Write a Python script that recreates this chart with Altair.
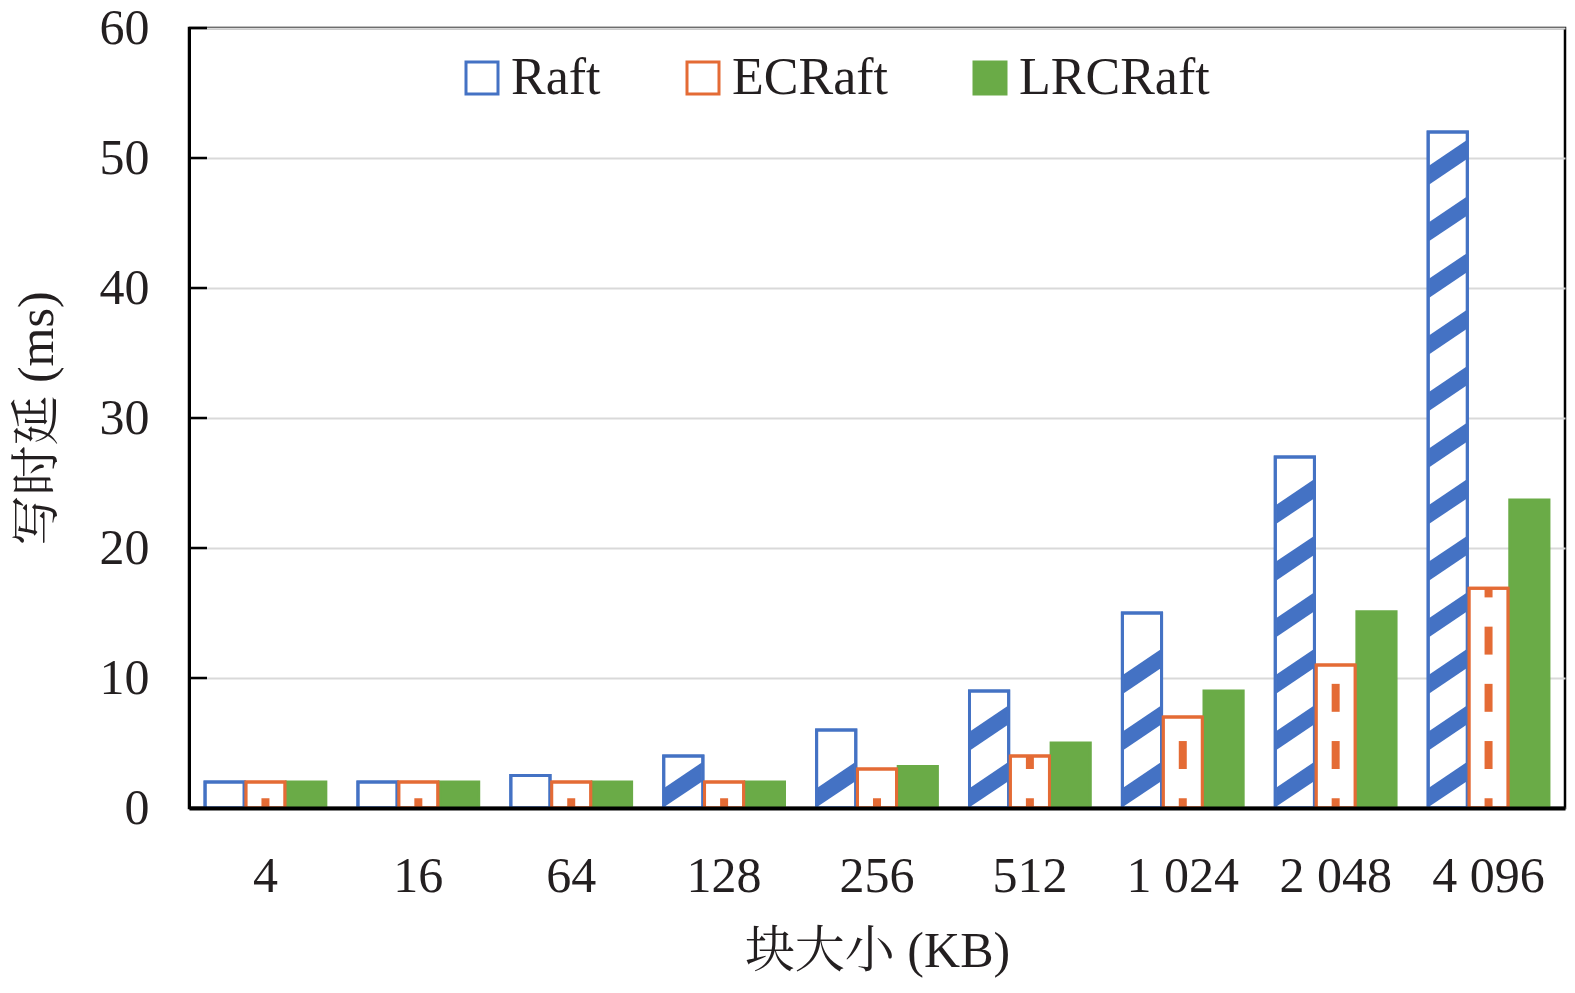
import altair as alt
import pandas as pd

# ---------------- data ----------------
categories = ["4", "16", "64", "128", "256", "512", "1 024", "2 048", "4 096"]
series_names = ["Raft", "ECRaft", "LRCRaft"]
raft = [2, 2, 2.5, 4, 6, 9, 15, 27, 52]
ecraft = [2, 2, 2, 2, 3, 4, 7, 11, 16.9]
lrcraft = [2, 2, 2, 2, 3.2, 5, 9, 15.1, 23.7]
y_ticks = [0, 10, 20, 30, 40, 50, 60]

# ---------------- style ----------------
BLUE = "#4472C4"
ORANGE = "#E46B35"
GREEN = "#6AAB47"
TEXT = "#231F20"
FONT = "Liberation Serif, Times New Roman, Noto Serif CJK SC, Noto Sans CJK SC, serif"

stroke_range = [BLUE, ORANGE, GREEN]
fill_range = ["#FFFFFF", "#FFFFFF", GREEN]

# pattern parameters (data units)
STRIPE_PERIOD = 4.35
STRIPE_START = 1.8
STRIPE_HALF = 1.69
DASH_PERIOD = 4.4
DASH_START = -1.4
DASH_LEN = 2.15

# ---------------- tables ----------------
rows = []
for cat, a, b, c in zip(categories, raft, ecraft, lrcraft):
    rows.append({"block": cat, "series": "Raft", "value": a})
    rows.append({"block": cat, "series": "ECRaft", "value": b})
    rows.append({"block": cat, "series": "LRCRaft", "value": c})
bars_df = pd.DataFrame(rows)

stripe_rows = []
for cat, v in zip(categories, raft):
    k = 0
    while True:
        cen = STRIPE_START + k * STRIPE_PERIOD
        if cen + STRIPE_HALF > v + 0.15:
            break
        stripe_rows.append({"block": cat, "series": "Raft", "center": cen})
        k += 1
stripe_df = pd.DataFrame(stripe_rows)

dash_rows = []
for cat, v in zip(categories, ecraft):
    k = 0
    while True:
        s = DASH_START + k * DASH_PERIOD
        if s >= v:
            break
        lo = max(s, 0.0)
        hi = min(s + DASH_LEN, v)
        if hi - lo > 0.1:
            dash_rows.append({"block": cat, "series": "ECRaft", "y0": lo, "y1": hi})
        k += 1
dash_df = pd.DataFrame(dash_rows)

outline_df = bars_df[bars_df["series"] != "LRCRaft"]
tick_df = pd.DataFrame({"tick": y_ticks})

# ---------------- scales ----------------
x_scale = alt.Scale(domain=categories, paddingInner=0.21, paddingOuter=0.105)
xo_scale = alt.Scale(domain=series_names, paddingInner=0.04, paddingOuter=0)
y_scale = alt.Scale(domain=[0, 60], nice=False)
Y_TITLE = "写时延 (ms)"
X_TITLE = "块大小 (KB)"

x_axis = alt.Axis(
    labelAngle=0, ticks=False, domainColor="black", domainWidth=4,
    labelPadding=83, labelBaseline="alphabetic", labelFontSize=50,
    labelFont=FONT, labelColor=TEXT,
    title=X_TITLE, titleY=158, titleBaseline="alphabetic", titleFontSize=50,
    titleFont=FONT, titleColor=TEXT, titleFontWeight="normal",
    zindex=1, grid=False,
)
y_axis = alt.Axis(
    values=y_ticks, ticks=False, labelPadding=40, labelFontSize=50,
    labelFont=FONT, labelColor=TEXT,
    domainColor="black", domainWidth=3, gridColor="#D9D9D9", gridWidth=2,
    title=Y_TITLE, titleAngle=270, titleX=-152, titleY=390,
    titleAlign="center", titleBaseline="middle", titleFontSize=50,
    titleFont=FONT, titleColor=TEXT, titleFontWeight="normal", zindex=0,
)

X = alt.X("block:N", scale=x_scale, sort=categories, axis=x_axis, title=X_TITLE)
XO = alt.XOffset("series:N", scale=xo_scale, sort=series_names)

legend = alt.Legend(
    orient="none", direction="horizontal", legendX=267, legendY=24,
    title=None, symbolType="square", symbolSize=1024, symbolStrokeWidth=3,
    labelFontSize=52, labelOffset=3, columnPadding=76, labelFont=FONT,
    labelColor=TEXT, symbolOpacity=1, labelLimit=500,
)

base = alt.Chart(bars_df).mark_bar(strokeWidth=3, opacity=1).encode(
    x=X,
    xOffset=XO,
    y=alt.Y("value:Q", scale=y_scale, axis=y_axis, title=Y_TITLE),
    fill=alt.Fill("series:N", scale=alt.Scale(domain=series_names, range=fill_range),
                  sort=series_names, legend=legend),
    stroke=alt.Stroke("series:N", scale=alt.Scale(domain=series_names, range=stroke_range),
                      sort=series_names, legend=legend),
)

STRIPE_PATH = "M -1 0.16 L 1 -1.19 L 1 -0.16 L -1 1.19 Z"
stripes = alt.Chart(stripe_df).mark_point(
    shape=STRIPE_PATH, filled=True, size=1369, opacity=1, color=BLUE, strokeWidth=0
).encode(
    x=X,
    xOffset=XO,
    y=alt.Y("center:Q", scale=y_scale, title=Y_TITLE),
)

dashes = alt.Chart(dash_df).mark_rule(strokeWidth=8, color=ORANGE, strokeCap="butt").encode(
    x=X,
    xOffset=XO,
    y=alt.Y("y0:Q", scale=y_scale, title=Y_TITLE),
    y2="y1:Q",
)

outline = alt.Chart(outline_df).mark_bar(fillOpacity=0, strokeWidth=3).encode(
    x=X,
    xOffset=XO,
    y=alt.Y("value:Q", scale=y_scale, title=Y_TITLE),
    stroke=alt.condition(alt.datum.series == "Raft", alt.value(BLUE), alt.value(ORANGE)),
)

ticks = alt.Chart(tick_df).mark_rule(color="black", strokeWidth=2.5).encode(
    y=alt.Y("tick:Q", scale=y_scale, title=Y_TITLE),
    x=alt.value(0),
    x2=alt.value(18),
)

chart = alt.layer(base, stripes, dashes, outline, ticks).properties(
    width=1376,
    height=780,
    background="white",
    autosize=alt.AutoSizeParams(type="none"),
    padding={"left": 181, "top": 20, "right": 2, "bottom": 172},
).configure_view(
    stroke="black", strokeWidth=2.5
).configure_axis(
    labelFont=FONT, titleFont=FONT, labelColor=TEXT, titleColor=TEXT,
    titleFontWeight="normal",
)

chart.save("out.html", embed_options={"renderer": "svg", "actions": False})
